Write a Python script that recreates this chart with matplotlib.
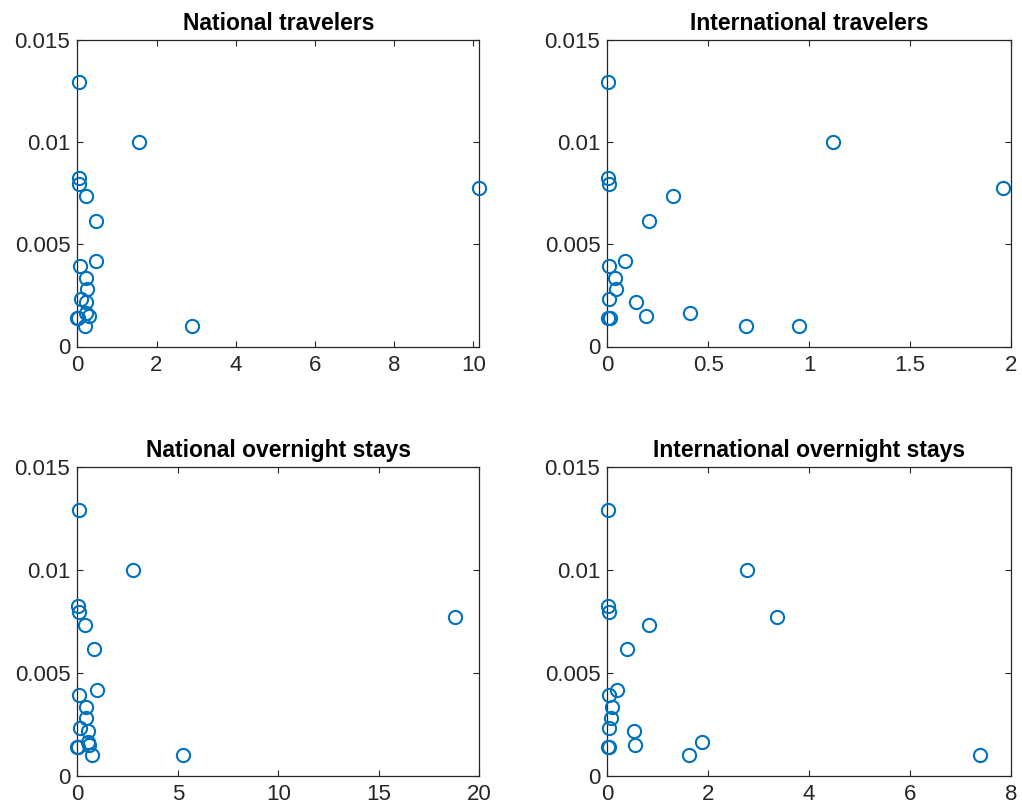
import numpy as np
import matplotlib
matplotlib.use('Agg')
import matplotlib.pyplot as plt
from matplotlib.ticker import FuncFormatter

plt.rcParams['font.family'] = ['Liberation Sans', 'DejaVu Sans']

# shared response values (one per region)
rate = [0.0129, 0.00823, 0.00794, 0.0100, 0.00773, 0.00735, 0.00615, 0.00417,
        0.00391, 0.00336, 0.00281, 0.00234, 0.00218, 0.00149, 0.00164,
        0.00141, 0.00141, 0.00102, 0.00102]

national_travelers = [0.04, 0.04, 0.04, 1.56, 10.15, 0.22, 0.47, 0.46,
                      0.08, 0.23, 0.25, 0.09, 0.23, 0.29, 0.23,
                      0.0, 0.01, 0.19, 2.89]
international_travelers = [0.003, 0.003, 0.008, 1.119, 1.958, 0.324, 0.205, 0.089,
                           0.007, 0.036, 0.043, 0.008, 0.142, 0.194, 0.409,
                           0.005, 0.013, 0.949, 0.687]
national_stays = [0.10, 0.05, 0.10, 2.75, 18.8, 0.38, 0.81, 0.98,
                  0.10, 0.41, 0.41, 0.13, 0.51, 0.58, 0.55,
                  0.0, 0.05, 0.71, 5.24]
international_stays = [0.007, 0.007, 0.026, 2.76, 3.37, 0.82, 0.40, 0.19,
                       0.026, 0.10, 0.073, 0.026, 0.53, 0.55, 1.88,
                       0.02, 0.03, 7.38, 1.62]

titles = ['National travelers', 'International travelers',
          'National overnight stays', 'International overnight stays']
xlims = [(0, 10.15), (0, 2), (0, 20), (0, 8)]
xticks = [[0, 2, 4, 6, 8, 10], [0, 0.5, 1, 1.5, 2], [0, 5, 10, 15, 20], [0, 2, 4, 6, 8]]
yticks = [0, 0.005, 0.01, 0.015]

W, H = 1022, 809
fig = plt.figure(figsize=(W / 100, H / 100), dpi=100)

# axes boxes in pixels: left, top, right, bottom
boxes = [(77.3, 39.5, 479.3, 346.5), (607.3, 39.5, 1011, 346.5),
         (77.3, 467, 479.3, 776), (607.3, 467, 1011, 776)]

series = [national_travelers, international_travelers, national_stays, international_stays]
edge = '#262626'

for i, (l, t, r, b) in enumerate(boxes):
    ax = fig.add_axes([l / W, (H - b) / H, (r - l) / W, (b - t) / H])
    ax.plot(series[i], rate, 'o', markerfacecolor='none', markeredgecolor='#0072BD',
            markersize=9.5, markeredgewidth=1.5, clip_on=False, zorder=3)
    ax.set_xlim(*xlims[i])
    ax.set_ylim(0, 0.015)
    ax.set_xticks(xticks[i])
    ax.set_yticks(yticks)
    ax.xaxis.set_major_formatter(FuncFormatter(lambda v, p: f'{v:g}'))
    ax.yaxis.set_major_formatter(FuncFormatter(lambda v, p: f'{v:g}'))
    ax.tick_params(direction='in', length=4, width=0.8, colors=edge,
                   labelsize=16, top=True, right=True)
    ax.tick_params(axis='x', pad=6)
    ax.tick_params(axis='y', pad=5)
    for sp in ax.spines.values():
        sp.set_color(edge)
        sp.set_linewidth(0.9)
    ax.set_title(titles[i], fontsize=16.5, fontweight='bold', pad=7)

fig.savefig('out.png', dpi=100)
